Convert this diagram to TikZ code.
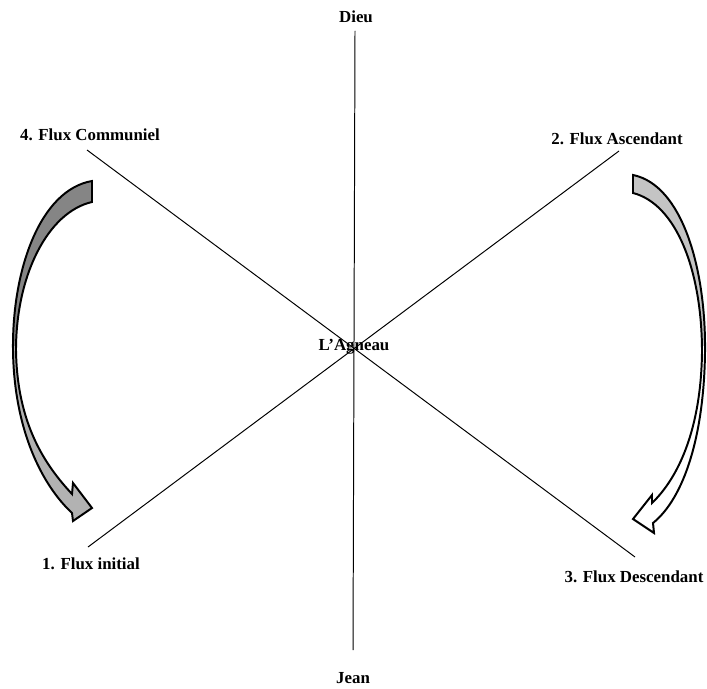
\documentclass[tikz,border=0pt]{standalone}
\usepackage{fontspec}
\setmainfont{Liberation Serif}
\usetikzlibrary{calc}
\definecolor{darkband}{gray}{0.52}
\definecolor{midband}{gray}{0.70}
\definecolor{paleband}{gray}{0.77}
\tikzstyle{lab}=[font=\fontsize{12}{14}\selectfont\bfseries, inner sep=1pt]
\tikzstyle{ray}=[draw, line width=0.7pt]
\tikzstyle{band}=[draw=black, line width=1.4pt, line join=miter]
\def\leftband{(92,181) .. controls (40,190) and (12,270) .. (13,350)
    .. controls (14,430) and (42,485) .. (72,513) -- (73,521) -- (92,508)
    -- (73,483) -- (72,494) .. controls (46,466) and (17,425) .. (16,350)
    .. controls (16,275) and (48,212) .. (92,202) -- cycle}
\def\rightband{(633,175) .. controls (682,185) and (706,268) .. (705,352)
    .. controls (704,436) and (684,498) .. (653,523) -- (654,533) -- (633,519)
    -- (652,495) -- (652,503) .. controls (678,478) and (701,430) .. (702,352)
    .. controls (702,270) and (676,204) .. (633,193) -- cycle}

\begin{document}
\begin{tikzpicture}[x=0.025cm, y=-0.025cm]
    \useasboundingbox (0,0) rectangle (707,688);
    \node (c) [lab] at (354,347) {L'Agneau};
    \path (c)+(2,-330) node (dieu) [lab] {Dieu};
    \path (c)+(-1,331) node (jean) [lab] {Jean};
    \path (c)+(-264,-212) node (f4) [lab] {4. Flux Communiel};
    \path (c)+(263,-208) node (f2) [lab] {2. Flux Ascendant};
    \path (c)+(-263,217) node (f1) [lab] {1. Flux initial};
    \path (c)+(280,230) node (f3) [lab] {3. Flux Descendant};
    % ends of the rays
    \coordinate (top) at (355,31);
    \coordinate (bot) at (353,650);
    \coordinate (e4) at (87,150);
    \coordinate (e3) at (635,557);
    \coordinate (e1) at (88,547);
    \coordinate (e2) at (619,151);
    \draw [ray] (top) -- (bot);
    \draw [ray] (e4) -- (e3);
    \draw [ray] (e1) -- (e2);
    % curved arrows
    \fill [midband] \leftband;
    \begin{scope}
        \clip (0,0) rectangle (120,345);
        \fill [darkband] \leftband;
    \end{scope}
    \draw [band] \leftband;
    \begin{scope}
        \clip (600,0) rectangle (707,345);
        \fill [paleband] \rightband;
    \end{scope}
    \draw [band] \rightband;
\end{tikzpicture}
\end{document}
